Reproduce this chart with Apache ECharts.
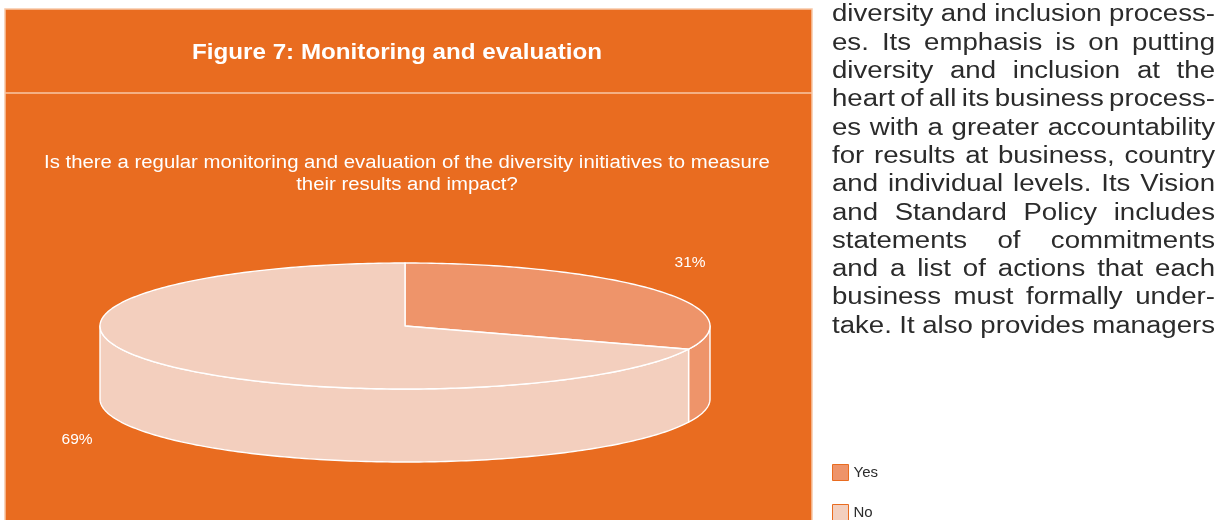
<!DOCTYPE html>
<html>
<head>
<meta charset="utf-8">
<title>Figure 7: Monitoring and evaluation</title>
<script src="https://cdn.jsdelivr.net/npm/echarts@6/dist/echarts.min.js"></script>
<style>
  html, body { margin: 0; padding: 0; background: #ffffff; }
  #chart { width: 1224px; height: 520px; }
</style>
</head>
<body>
<div id="chart"></div>
<script>
// ---- data ----
const categories = ['Yes', 'No'];
const values = [31, 69];
const sliceColors = ['#EE946A', '#F3CFBE'];

const figureTitle = 'Figure 7: Monitoring and evaluation';
const questionLines = [
  'Is there a regular monitoring and evaluation of the diversity initiatives to measure',
  'their results and impact?'
];
const bodyLines = [
  'diversity and inclusion process-',
  'es. Its emphasis is on putting',
  'diversity and inclusion at the',
  'heart of all its business process-',
  'es with a greater accountability',
  'for results at business, country',
  'and individual levels. Its Vision',
  'and Standard Policy includes',
  'statements of commitments',
  'and a list of actions that each',
  'business must formally under-',
  'take. It also provides managers'
];

// ---- layout ----
const ORANGE = '#E96C20';
const PANEL_LINE = '#F7C7A6';
const PIE = { cx: 405, cy: 326, rx: 305, ry: 63, depth: 73 };
const BODY = { left: 832, right: 1215, top: 15, lineHeight: 28.3, fontSize: 23.5, stretch: 1.175, color: '#2b2b2b' };
const FONT = '"Liberation Sans", Arial, sans-serif';

const total = values.reduce((a, b) => a + b, 0);
const startAngles = values.map((v, i) => values.slice(0, i).reduce((a, b) => a + b, 0) / total * 360);

// angle in degrees, clockwise from 12 o'clock, on the projected ellipse
function ellipsePoint(deg, dy) {
  const r = deg * Math.PI / 180;
  return [PIE.cx + PIE.rx * Math.sin(r), PIE.cy - PIE.ry * Math.cos(r) + (dy || 0)];
}
function arcPoints(a0, a1, dy) {
  const n = Math.max(2, Math.ceil(Math.abs(a1 - a0)));
  const pts = [];
  for (let k = 0; k <= n; k++) pts.push(ellipsePoint(a0 + (a1 - a0) * k / n, dy));
  return pts;
}

function renderSlice(params, api) {
  const idx = params.seriesIndex;
  const value = api.value(0);
  const a0 = startAngles[idx];
  const a1 = a0 + value / total * 360;
  const color = sliceColors[idx];
  const children = [];

  // visible outer wall: the front half of the disc (90..270 degrees)
  const s = Math.max(a0, 90), e = Math.min(a1, 270);
  if (s < e) {
    children.push({
      type: 'polygon', z2: 1,
      shape: { points: arcPoints(s, e, 0).concat(arcPoints(e, s, PIE.depth)) },
      style: { fill: color, stroke: '#ffffff', lineWidth: 1.4, lineJoin: 'round' }
    });
  }
  // top face
  children.push({
    type: 'polygon', z2: 2,
    shape: { points: [[PIE.cx, PIE.cy]].concat(arcPoints(a0, a1, 0)) },
    style: { fill: color, stroke: '#ffffff', lineWidth: 1.4, lineJoin: 'round' }
  });
  // percentage label, outside the slice at its mid angle
  const mid = (a0 + a1) / 2 * Math.PI / 180;
  const front = Math.cos(mid) < 0;
  const lx = PIE.cx + PIE.rx * Math.sin(mid) * (front ? 1.3 : 1.13);
  const ly = PIE.cy - PIE.ry * Math.cos(mid) * (front ? 1.16 : 1.78) + (front ? PIE.depth : 0);
  children.push({
    type: 'text', z2: 3,
    style: {
      text: Math.round(value / total * 100) + '%', x: lx, y: ly,
      fill: '#ffffff', font: '15.5px ' + FONT, align: 'center', verticalAlign: 'middle'
    }
  });
  return { type: 'group', children: children };
}

// justified body text, one text element per word, set slightly wide
const measureCtx = document.createElement('canvas').getContext('2d');
function bodyGraphics() {
  const font = BODY.fontSize + 'px ' + FONT;
  measureCtx.font = font;
  const out = [];
  bodyLines.forEach((line, li) => {
    const words = line.split(' ');
    const widths = words.map(w => measureCtx.measureText(w).width * BODY.stretch);
    const used = widths.reduce((a, b) => a + b, 0);
    const gap = words.length > 1 ? (BODY.right - BODY.left - used) / (words.length - 1) : 0;
    let x = BODY.left;
    const y = BODY.top + li * BODY.lineHeight;
    words.forEach((w, wi) => {
      out.push({
        type: 'text', x: x, y: y, scaleX: BODY.stretch, silent: true,
        style: { text: w, x: 0, y: 0, font: font, fill: BODY.color, align: 'left', verticalAlign: 'middle' }
      });
      x += widths[wi] + gap;
    });
  });
  return out;
}

function centeredText(text, x, y, font, stretch) {
  return {
    type: 'text', silent: true, x: x, y: y, scaleX: stretch,
    style: { text: text, x: 0, y: 0, fill: '#ffffff', font: font, align: 'center', verticalAlign: 'middle' }
  };
}

const chart = echarts.init(document.getElementById('chart'), null, { renderer: 'canvas' });

const option = {
  animation: false,
  backgroundColor: '#ffffff',
  legend: {
    data: categories,
    orient: 'vertical',
    left: 832, top: 464,
    height: 90,
    padding: 0,
    itemWidth: 16, itemHeight: 16, itemGap: 23,
    icon: 'rect',
    itemStyle: { borderColor: ORANGE, borderWidth: 1 },
    textStyle: { color: '#2b2b2b', fontSize: 15, fontFamily: FONT, lineHeight: 16 },
    selectedMode: false
  },
  graphic: [
    // panel
    {
      type: 'rect', z: -10, silent: true,
      shape: { x: 5, y: 9, width: 807, height: 520 },
      style: { fill: ORANGE, stroke: PANEL_LINE, lineWidth: 1.5 }
    },
    {
      type: 'line', z: -9, silent: true,
      shape: { x1: 5, y1: 93, x2: 812, y2: 93 },
      style: { stroke: PANEL_LINE, lineWidth: 1.5 }
    },
    centeredText(figureTitle, 397, 53, 'bold 22px ' + FONT, 1.1),
    centeredText(questionLines[0], 407, 163, '18px ' + FONT, 1.13),
    centeredText(questionLines[1], 407, 185, '18px ' + FONT, 1.13)
  ].concat(bodyGraphics()),
  series: categories.map((name, i) => ({
    type: 'custom',
    name: name,
    coordinateSystem: 'none',
    itemStyle: { color: sliceColors[i] },
    renderItem: renderSlice,
    data: [[values[i]]]
  }))
};

chart.setOption(option);
</script>
</body>
</html>
